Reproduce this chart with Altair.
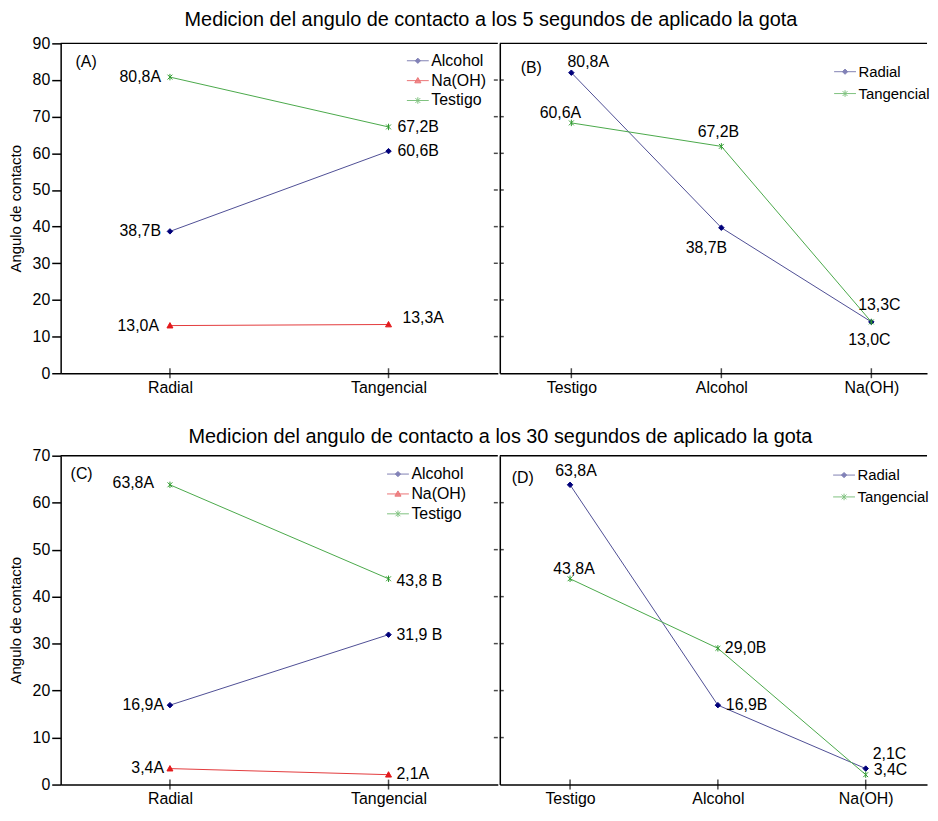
import altair as alt
import pandas as pd

FONT = "Liberation Sans"

# ---------------- data ----------------
cortes = ["Radial", "Tangencial"]
tratamientos = ["Testigo", "Alcohol", "Na(OH)"]
serie_trat = ["Alcohol", "Na(OH)", "Testigo"]
serie_corte = ["Radial", "Tangencial"]

# (A) 5 s, by cut
A_alcohol = [38.7, 60.6]
A_naoh = [13.0, 13.3]
A_testigo = [80.8, 67.2]
A_lab_alcohol = ["38,7B", "60,6B"]
A_lab_naoh = ["13,0A", "13,3A"]
A_lab_testigo = ["80,8A", "67,2B"]

# (B) 5 s, by treatment (values as drawn)
B_radial = [82.0, 39.7, 14.0]
B_tangencial = [68.3, 61.9, 14.0]
B_lab_radial = ["80,8A", "38,7B", "13,0C"]
B_lab_tangencial = ["60,6A", "67,2B", "13,3C"]

# (C) 30 s, by cut
C_alcohol = [16.9, 31.9]
C_naoh = [3.4, 2.1]
C_testigo = [63.8, 43.8]
C_lab_alcohol = ["16,9A", "31,9 B"]
C_lab_naoh = ["3,4A", "2,1A"]
C_lab_testigo = ["63,8A", "43,8 B"]

# (D) 30 s, by treatment
D_radial = [63.8, 16.9, 3.4]
D_tangencial = [43.8, 29.0, 2.1]
D_lab_radial = ["63,8A", "16,9B", "3,4C"]
D_lab_tangencial = ["43,8A", "29,0B", "2,1C"]

ticks_90 = [0, 10, 20, 30, 40, 50, 60, 70, 80, 90]
ticks_70 = [0, 10, 20, 30, 40, 50, 60, 70]

title_5 = "Medicion del angulo de contacto a los 5 segundos de aplicado la gota"
title_30 = "Medicion del angulo de contacto a los 30 segundos de aplicado la gota"
y_title = "Angulo de contacto"

# ---------------- styles ----------------
MARK = {"Alcohol": "#00007a", "Radial": "#00007a", "Na(OH)": "#e31a1c",
        "Testigo": "#2f9a2f", "Tangencial": "#2f9a2f"}
LINE = {"Alcohol": "#4e4e94", "Radial": "#4e4e94", "Na(OH)": "#e33a3c",
        "Testigo": "#4aa84a", "Tangencial": "#4aa84a"}
DIAMOND = "M0,-1L1,0L0,1L-1,0Z"
TRI = "M0,-1L1,0.8L-1,0.8Z"
ASTER = "M-0.75,-0.75L0.75,0.75M-0.75,0.75L0.75,-0.75M0,-1L0,1"
SHAPE = {"Alcohol": (DIAMOND, 30, True), "Radial": (DIAMOND, 30, True),
         "Na(OH)": (TRI, 36, True), "Testigo": (ASTER, 42, False),
         "Tangencial": (ASTER, 42, False)}
LEG_PATH = {
    "Alcohol": "M-1,0L1,0M0,-0.24L0.24,0L0,0.24L-0.24,0Z",
    "Radial": "M-1,0L1,0M0,-0.24L0.24,0L0,0.24L-0.24,0Z",
    "Na(OH)": "M-1,0L1,0M0,-0.28L0.28,0.2L-0.28,0.2Z",
    "Testigo": "M-1,0L1,0M-0.22,-0.22L0.22,0.22M-0.22,0.22L0.22,-0.22M0,-0.3L0,0.3",
    "Tangencial": "M-1,0L1,0M-0.22,-0.22L0.22,0.22M-0.22,0.22L0.22,-0.22M0,-0.3L0,0.3",
}

# label placements: (dx, dy, align)
PLACE_A = {("Alcohol", "Radial"): (-9, 0, "right"), ("Na(OH)", "Radial"): (-11, 0, "right"),
           ("Testigo", "Radial"): (-9, 0, "right"), ("Alcohol", "Tangencial"): (9, 0, "left"),
           ("Na(OH)", "Tangencial"): (14, -6, "left"), ("Testigo", "Tangencial"): (9, 0, "left")}
PLACE_B = {("Radial", "Testigo"): (17, -11, "center"), ("Radial", "Alcohol"): (-15, 20, "center"),
           ("Radial", "Na(OH)"): (-2, 18, "center"), ("Tangencial", "Testigo"): (-11, -10, "center"),
           ("Tangencial", "Alcohol"): (-3, -14, "center"), ("Tangencial", "Na(OH)"): (8, -17, "center")}
PLACE_C = {("Alcohol", "Radial"): (-6, 0, "right"), ("Na(OH)", "Radial"): (-6, -1, "right"),
           ("Testigo", "Radial"): (-16, -2, "right"), ("Alcohol", "Tangencial"): (8, 0, "left"),
           ("Na(OH)", "Tangencial"): (8, -1, "left"), ("Testigo", "Tangencial"): (8, 2, "left")}
PLACE_D = {("Radial", "Testigo"): (6, -14, "center"), ("Radial", "Alcohol"): (8, 0, "left"),
           ("Radial", "Na(OH)"): (8, 1, "left"), ("Tangencial", "Testigo"): (4, -10, "center"),
           ("Tangencial", "Alcohol"): (7, 0, "left"), ("Tangencial", "Na(OH)"): (7, -21, "left")}


def make_df(cats, series, values, labels):
    rows = []
    for s, vals, labs in zip(series, values, labels):
        for c, v, l in zip(cats, vals, labs):
            rows.append({"cat": c, "serie": s, "val": v, "label": l})
    return pd.DataFrame(rows)


def panel(cats, series, df, place, ymax, yticks, width, height, first,
          xpad, xalign, leg_xy, leg_font, leg_rowpad, tag, tag_xy):
    xs = alt.Scale(type="point", domain=cats, padding=xpad, align=xalign)
    ys = alt.Scale(domain=[0, ymax], nice=False, zero=True)
    x_axis = alt.Axis(orient="bottom", ticks=False, labelAngle=0, labelPadding=6,
                      labelFontSize=16, labelFont=FONT, labelColor="black", title=None,
                      grid=False, domainColor="black", domainWidth=1.5)
    if first:
        y_axis = alt.Axis(orient="left", values=yticks, tickSize=9, tickColor="black",
                          tickWidth=1.5, labelPadding=2, labelFontSize=16, labelFont=FONT,
                          labelColor="black", title=y_title, titleFontSize=15,
                          titleFont=FONT, titleFontWeight="normal", titleColor="black",
                          titlePadding=9, grid=False, domainColor="black", domainWidth=1.5)
    else:
        y_axis = alt.Axis(orient="left", ticks=False, labels=False, title=None, grid=False,
                          domainColor="black", domainWidth=1.5)

    X0 = alt.X("cat:N", scale=xs, axis=None, sort=cats)
    Y0 = alt.Y("val:Q", scale=ys, axis=None)

    layers = []
    for i, s in enumerate(series):
        layers.append(
            alt.Chart(df).transform_filter(alt.datum.serie == s)
            .mark_line(color=LINE[s], strokeWidth=1)
            .encode(x=alt.X("cat:N", scale=xs, axis=x_axis if i == 0 else None, sort=cats),
                    y=alt.Y("val:Q", scale=ys, axis=y_axis if i == 0 else None))
        )
    for s in series:
        shp, size, filled = SHAPE[s]
        mk = dict(shape=shp, size=size, strokeWidth=1, opacity=1)
        if filled:
            mk.update(filled=True, fill=MARK[s], stroke=MARK[s])
        else:
            mk.update(filled=False, stroke=MARK[s])
        layers.append(
            alt.Chart(df).transform_filter(alt.datum.serie == s)
            .mark_point(**mk).encode(x=X0, y=Y0)
        )
    # top frame line at the top of the value scale
    layers.append(
        alt.Chart(pd.DataFrame({"v": [ymax]})).mark_rule(color="black", strokeWidth=1.5)
        .encode(y=alt.Y("v:Q", scale=ys, axis=None))
    )
    # crossing ticks on x axis
    layers.append(
        alt.Chart(pd.DataFrame({"cat": cats})).mark_tick(
            orient="vertical", size=10, thickness=1.5, color="black")
        .encode(x=alt.X("cat:N", scale=xs, axis=None, sort=cats), y=alt.value(height))
    )
    # half ticks on the shared vertical divider (outer half in left panel, inner half in right)
    tick_df = pd.DataFrame({"t": yticks[1:-1]})
    layers.append(
        alt.Chart(tick_df).mark_tick(orient="horizontal", size=4, thickness=1.5, color="black")
        .encode(y=alt.Y("t:Q", scale=ys, axis=None),
                x=alt.value(width - 2 if first else 2))
    )
    # legend layer
    leg = alt.Legend(title=None, orient="none", legendX=leg_xy[0], legendY=leg_xy[1],
                     symbolSize=484, symbolStrokeWidth=1, labelFontSize=leg_font,
                     labelFont=FONT, labelColor="black", labelOffset=2,
                     rowPadding=leg_rowpad, padding=0)
    layers.append(
        alt.Chart(df).transform_filter("false")
        .mark_point(filled=True, size=484, strokeWidth=1)
        .encode(x=X0, y=Y0,
                fill=alt.Fill("serie:N", scale=alt.Scale(domain=series, range=[MARK[s] for s in series]), legend=leg),
                stroke=alt.Stroke("serie:N", scale=alt.Scale(domain=series, range=[LINE[s] for s in series]), legend=leg),
                shape=alt.Shape("serie:N", scale=alt.Scale(domain=series, range=[LEG_PATH[s] for s in series]), legend=leg))
    )
    # value labels
    for (s, c), (dx, dy, al) in place.items():
        layers.append(
            alt.Chart(df).transform_filter((alt.datum.serie == s) & (alt.datum.cat == c))
            .mark_text(dx=dx, dy=dy, align=al, baseline="middle", fontSize=16,
                       font=FONT, color="black")
            .encode(x=X0, y=Y0, text="label:N")
        )
    # panel tag
    layers.append(
        alt.Chart(pd.DataFrame({"t": [tag]})).mark_text(
            align="left", baseline="middle", fontSize=16, font=FONT, color="black")
        .encode(x=alt.value(tag_xy[0]), y=alt.value(tag_xy[1]), text="t:N")
    )
    return (alt.layer(*layers).properties(width=width, height=height)
            .resolve_axis(x="independent", y="independent"))


dfA = make_df(cortes, serie_trat, [A_alcohol, A_naoh, A_testigo],
              [A_lab_alcohol, A_lab_naoh, A_lab_testigo])
dfB = make_df(tratamientos, serie_corte, [B_radial, B_tangencial],
              [B_lab_radial, B_lab_tangencial])
dfC = make_df(cortes, serie_trat, [C_alcohol, C_naoh, C_testigo],
              [C_lab_alcohol, C_lab_naoh, C_lab_testigo])
dfD = make_df(tratamientos, serie_corte, [D_radial, D_tangencial],
              [D_lab_radial, D_lab_tangencial])

WA, WB = 440, 430
pA = panel(cortes, serie_trat, dfA, PLACE_A, 90, ticks_90, WA, 332, True,
           0.5, 0.5, (348, 6), 16, 0, "(A)", (15, 19))
pB = panel(tratamientos, serie_corte, dfB, PLACE_B, 90, ticks_90, WB, 332, False,
           0.424, 0.5625, (336, 17), 15, 2, "(B)", (21, 25))
pC = panel(cortes, serie_trat, dfC, PLACE_C, 70, ticks_70, WA, 331, True,
           0.5, 0.5, (328, 7), 16, -1, "(C)", (10, 18))
pD = panel(tratamientos, serie_corte, dfD, PLACE_D, 70, ticks_70, WB, 331, False,
           0.445, 0.534, (335, 8), 15, 2, "(D)", (12, 22))


def ttl(t, off, dx):
    return alt.TitleParams(t, fontSize=20, font=FONT, fontWeight="normal", color="black",
                           anchor="middle", offset=off, dx=dx)


IND = dict(fill="independent", stroke="independent", shape="independent")

top = (alt.hconcat(pA, pB, spacing=0)
       .properties(title=ttl(title_5, 5, 22))
       .resolve_scale(**IND).resolve_legend(**IND))
bottom = (alt.hconcat(pC, pD, spacing=0)
          .properties(title=ttl(title_30, 1, 32))
          .resolve_scale(**IND).resolve_legend(**IND))

chart = (alt.vconcat(top, bottom, spacing=32)
         .resolve_scale(**IND).resolve_legend(**IND)
         .properties(background="white",
                     padding={"left": 0, "top": 0, "right": 0, "bottom": 0})
         .configure_view(stroke="transparent", strokeWidth=0))

chart.save("out.html", embed_options={"renderer": "svg", "actions": False})
